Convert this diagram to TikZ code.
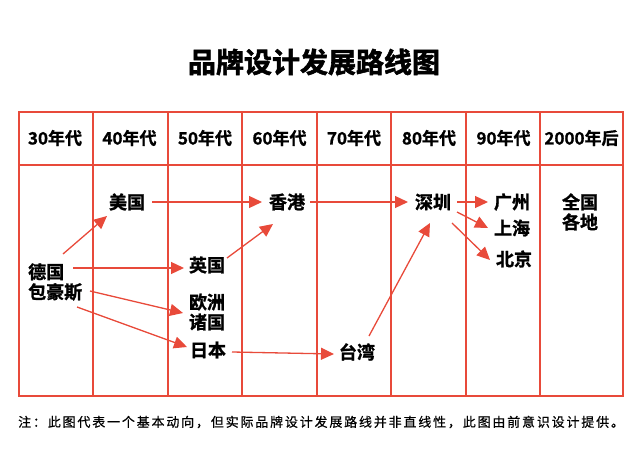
\documentclass[tikz,border=0pt]{standalone}
\usepackage{fontspec}
\setmainfont{Noto Sans CJK SC}[BoldFont={Noto Sans CJK SC Bold}]
\usetikzlibrary{arrows.meta}
\definecolor{gridred}{RGB}{232,74,58}
\begin{document}
\begin{tikzpicture}[x=1pt,y=-1pt,
  grid/.style={draw=gridred, line width=2pt},
  hdr/.style={font=\fontsize{17}{19}\selectfont\bfseries\addfontfeature{FakeBold=1}, inner sep=0pt},
  place/.style={font=\fontsize{18}{20}\selectfont\bfseries\addfontfeature{FakeBold=1.3}, inner sep=0pt, align=center},
  conn/.style={draw=gridred, line width=1.3pt, -{Triangle[length=13pt,width=12pt]}}]
\useasboundingbox (0,0) rectangle (640,460);
% title
\node[font=\fontsize{28}{30}\selectfont\bfseries\addfontfeature{FakeBold=2}, inner sep=0pt] (title) at (314,62) {品牌设计发展路线图};
% grid
\draw[grid] (19,111.5) rectangle (623,396);
\draw[grid] (19,165) -- (623,165);
\foreach \x in {93,168,242,317,391,465.5,540}
  \draw[grid] (\x,111.5) -- (\x,396);
% headers
\node[hdr] (h1) at (55,138) {30年代};
\node[hdr] (h2) at (129.5,138) {40年代};
\node[hdr] (h3) at (205,138) {50年代};
\node[hdr] (h4) at (279.5,138) {60年代};
\node[hdr] (h5) at (354,138) {70年代};
\node[hdr] (h6) at (429,138) {80年代};
\node[hdr] (h7) at (503.5,138) {90年代};
\node[hdr] (h8) at (581.5,138) {2000年后};
% places
\node[place, align=left, anchor=west] (de) at (28,282) {德国\\包豪斯};
\node[place] (us) at (127,202) {美国};
\node[place] (uk) at (207,265) {英国};
\node[place] (eu) at (207,312) {欧洲\\诸国};
\node[place] (jp) at (208,350) {日本};
\node[place] (hk) at (287,202) {香港};
\node[place] (tw) at (357,352) {台湾};
\node[place] (sz) at (433,202) {深圳};
\node[place] (gz) at (512,202) {广州};
\node[place] (sh) at (512,228) {上海};
\node[place] (bj) at (514,259) {北京};
\node[place] (qg) at (580,212) {全国\\各地};
% connectors
\draw[conn] ([shift={(35,-28)}]de.west) -- ([shift={(-20,14)}]us.center);
\draw[conn] ([shift={(45,-14)}]de.west) -- ([shift={(-23,3)}]uk.center);
\draw[conn] ([shift={(62,9)}]de.west) -- ([shift={(-24,1)}]eu.center);
\draw[conn] ([shift={(49,25)}]de.west) -- ([shift={(-21,-3)}]jp.center);
\draw[conn] ([shift={(25,0)}]us.center) -- ([shift={(-25,0)}]hk.center);
\draw[conn] ([shift={(20,-7)}]uk.center) -- ([shift={(-14,22)}]hk.center);
\draw[conn] ([shift={(24,2)}]jp.center) -- ([shift={(-23,2)}]tw.center);
\draw[conn] ([shift={(12,-16)}]tw.center) -- ([shift={(-3,21)}]sz.center);
\draw[conn] ([shift={(23,0)}]hk.center) -- ([shift={(-25,0)}]sz.center);
\draw[conn] ([shift={(24,0)}]sz.center) -- ([shift={(-24,0)}]gz.center);
\draw[conn] ([shift={(24,10)}]sz.center) -- ([shift={(-24,0)}]sh.center);
\draw[conn] ([shift={(19,21)}]sz.center) -- ([shift={(-24,1)}]bj.center);
% note
\node[anchor=west, inner sep=0pt, font=\fontsize{13}{15}\selectfont\addfontfeature{LetterSpace=14,FakeBold=0.6}] (note) at (18,422) {注：此图代表一个基本动向，但实际品牌设计发展路线并非直线性，此图由前意识设计提供。};
\end{tikzpicture}
\end{document}
